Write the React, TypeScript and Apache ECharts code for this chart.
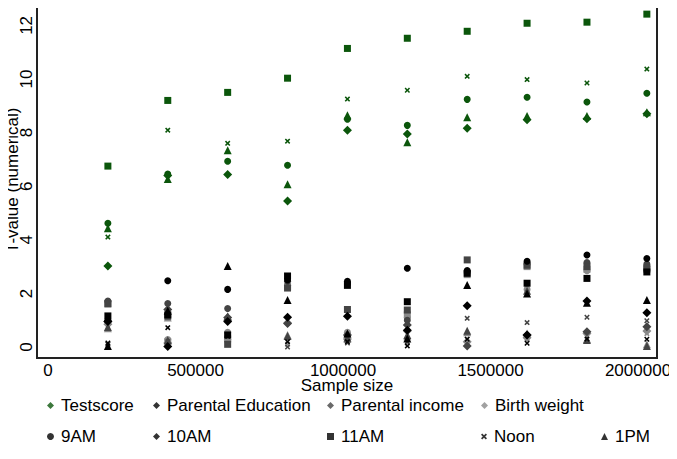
import React, { useEffect, useRef } from "react";
import * as echarts from "echarts";

// ---- data ----
const sampleSizes = [203000, 406000, 609000, 812000, 1015000, 1218000, 1421000, 1624000, 1827000, 2030000];
const outcomeNames = ["Testscore", "Parental Education", "Parental income", "Birth weight"];
const timeNames = ["9AM", "10AM", "11AM", "Noon", "1PM"];
const xTickStep = 500000;
const yTickStep = 2;

// Testscore
const testscore9AM = [4.62, 6.45, 6.93, 6.78, 8.5, 8.27, 9.24, 9.32, 9.14, 9.47];
const testscore10AM = [3.02, 6.4, 6.44, 5.45, 8.09, 7.95, 8.16, 8.48, 8.52, 8.7];
const testscore11AM = [6.75, 9.2, 9.5, 10.03, 11.14, 11.52, 11.78, 12.08, 12.12, 12.42];
const testscoreNoon = [4.1, 8.09, 7.6, 7.68, 9.25, 9.58, 10.1, 9.98, 9.85, 10.37];
const testscore1PM = [4.43, 6.27, 7.34, 6.07, 8.65, 7.64, 8.57, 8.62, 8.62, 8.76];

// Parental Education
const parEdu9AM = [1.0, 2.47, 2.15, 2.5, 2.45, 2.94, 2.85, 3.2, 3.43, 3.3];
const parEdu10AM = [0.95, 0.02, 0.95, 1.11, 1.15, 0.63, 1.54, 0.45, 1.72, 1.28];
const parEdu11AM = [1.16, 1.2, 0.45, 2.65, 2.3, 1.69, 2.75, 2.38, 2.56, 2.8];
const parEduNoon = [0.15, 0.72, 0.4, 0.2, 0.2, 0.04, 0.29, 0.14, 0.3, 0.29];
const parEdu1PM = [0.04, 1.35, 3.02, 1.75, 0.5, 0.32, 2.31, 2.0, 1.65, 1.75];

// Parental income
const parInc9AM = [1.72, 1.62, 1.44, 2.45, 2.35, 1.0, 2.8, 3.1, 3.15, 3.1];
const parInc10AM = [0.95, 1.4, 1.1, 0.88, 0.45, 0.82, 0.04, 0.45, 0.57, 0.76];
const parInc11AM = [1.62, 1.15, 0.1, 2.2, 1.4, 1.38, 3.25, 3.05, 3.0, 2.95];
const parIncNoon = [0.1, 0.2, 0.45, 0.0, 0.15, 0.2, 1.07, 0.91, 1.11, 0.98];
const parInc1PM = [0.75, 0.25, 1.15, 0.41, 0.35, 0.45, 0.61, 2.1, 0.26, 0.04];

// Birth weight
const birth9AM = [1.7, 0.28, 0.55, 2.3, 0.55, 1.1, 2.75, 2.15, 2.85, 3.0];
const birth10AM = [0.85, 0.15, 1.0, 0.9, 0.3, 0.6, 0.2, 0.35, 0.5, 0.6];
const birth11AM = [1.6, 0.2, 0.3, 2.25, 0.4, 1.2, 2.7, 3.0, 2.9, 2.9];
const birthNoon = [0.12, 0.22, 0.5, 0.1, 0.25, 0.15, 0.3, 0.3, 0.4, 0.5];
const birth1PM = [0.7, 1.1, 0.4, 0.45, 0.3, 0.4, 0.55, 0.5, 0.3, 0.1];

const outcomeValues = [
  [testscore9AM, testscore10AM, testscore11AM, testscoreNoon, testscore1PM],
  [parEdu9AM, parEdu10AM, parEdu11AM, parEduNoon, parEdu1PM],
  [parInc9AM, parInc10AM, parInc11AM, parIncNoon, parInc1PM],
  [birth9AM, birth10AM, birth11AM, birthNoon, birth1PM],
];

// ---- styles ----
const outcomeColors = ["#0b560b", "#000000", "#444444", "#8a8a8a"];
const X_PATH =
  "path://M0,2 L2,0 L5,3 L8,0 L10,2 L7,5 L10,8 L8,10 L5,7 L2,10 L0,8 L3,5 Z";
const timeSymbols = ["circle", "diamond", "rect", X_PATH, "triangle"];
const timeSizes = [7, 9, 7, 5.5, 8];

const FONT = "'Liberation Sans', Arial, Helvetica, sans-serif";
const FS = 17;
const FRAME_COLOR = "#222222";

// plot region (the framed box) in pixels; the axis ranges are padded so that
// the data area sits inside the box like the reference's plot region
const GRID = { left: 37, right: 20, top: 2.5, bottom: 101 };
const W = 677;
const H = 459;
const X_MIN = -37300;
const X_MAX = 2064400;
const Y_MIN = -0.41;
const Y_MAX = 12.854;

export default function App() {
  const ref = useRef<HTMLDivElement>(null);

  useEffect(() => {
    if (!ref.current) return;
    const chart = echarts.init(ref.current, null, { renderer: "svg" });

    const series: any[] = [];
    // frame bars along the grid's edges (backs up the grid border)
    series.push({
      type: "custom",
      name: "frame",
      coordinateSystem: "cartesian2d",
      silent: true,
      clip: false,
      z: 1,
      data: [[0, 0]],
      renderItem: (params: any) => {
        const cs = params.coordSys;
        const st = { fill: FRAME_COLOR };
        return {
          type: "group",
          children: [
            { type: "rect", shape: { x: cs.x - 1, y: cs.y - 1, width: cs.width + 2, height: 2 }, style: st },
            { type: "rect", shape: { x: cs.x - 1, y: cs.y + cs.height - 1, width: cs.width + 2, height: 2 }, style: st },
            { type: "rect", shape: { x: cs.x - 1, y: cs.y - 1, width: 2, height: cs.height + 2 }, style: st },
            { type: "rect", shape: { x: cs.x + cs.width - 1, y: cs.y - 1, width: 2, height: cs.height + 2 }, style: st },
          ],
        };
      },
    });

    [3, 2, 1, 0].forEach((o) => {
      timeNames.forEach((t, ti) => {
        series.push({
          type: "scatter",
          name: outcomeNames[o] + " " + t,
          symbol: timeSymbols[ti],
          symbolSize: timeSizes[ti],
          itemStyle: { color: outcomeColors[o], opacity: 1 },
          data: outcomeValues[o][ti].map((v, i) => [sampleSizes[i], v]),
          clip: false,
          silent: true,
          z: 3,
        });
      });
    });
    // legend-only series
    outcomeNames.forEach((n, o) => {
      series.push({
        type: "scatter",
        name: n,
        symbol: "diamond",
        itemStyle: { color: outcomeColors[o] },
        data: [],
      });
    });
    timeNames.forEach((n, ti) => {
      series.push({
        type: "scatter",
        name: n,
        symbol: timeSymbols[ti],
        itemStyle: { color: "#000000" },
        data: [],
      });
    });

    const colX = [47, 153, 327, 481, 601];
    const row1Y = 397;
    const row2Y = 428;
    const mkLegend = (n: string, x: number, y: number, size: number) => ({
      left: x,
      top: y,
      padding: 0,
      itemWidth: size,
      itemHeight: size,
      selectedMode: false,
      data: [n],
      textStyle: { fontSize: FS, color: "#000", fontFamily: FONT, padding: [0, 0, 0, 2] },
    });
    const legends: any[] = [];
    outcomeNames.forEach((n, i) => legends.push(mkLegend(n, colX[i], row1Y, 7)));
    timeNames.forEach((n, i) => legends.push(mkLegend(n, colX[i], row2Y, i === 3 ? 6 : 7)));

    const fl = GRID.left - 1;
    const fr = W - GRID.right - 1;
    const ft = GRID.top - 1;
    const fb = H - GRID.bottom - 1;
    const fw = fr - fl + 2;
    const fh = fb - ft + 2;
    const gst = { fill: FRAME_COLOR };

    const onStep = (v: number, step: number) =>
      Math.abs(v / step - Math.round(v / step)) < 1e-6;

    chart.setOption({
      animation: false,
      backgroundColor: "#ffffff",
      textStyle: { fontFamily: FONT },
      grid: {
        ...GRID,
        show: true,
        borderColor: FRAME_COLOR,
        borderWidth: 2,
        backgroundColor: "transparent",
        containLabel: false,
        outerBoundsMode: "none",
      },
      graphic: {
        elements: [
          { type: "rect", x: fl, y: ft, shape: { x: 0, y: 0, width: fw, height: 2 }, style: gst, silent: true },
          { type: "rect", x: fl, y: fb, shape: { x: 0, y: 0, width: fw, height: 2 }, style: gst, silent: true },
          { type: "rect", x: fl, y: ft, shape: { x: 0, y: 0, width: 2, height: fh }, style: gst, silent: true },
          { type: "rect", x: fr, y: ft, shape: { x: 0, y: 0, width: 2, height: fh }, style: gst, silent: true },
        ],
      },
      xAxis: {
        type: "value",
        min: X_MIN,
        max: X_MAX,
        minInterval: xTickStep,
        maxInterval: xTickStep,
        splitNumber: 4,
        name: "Sample size",
        nameLocation: "middle",
        nameGap: 19,
        nameMoveOverlap: false,
        nameTextStyle: { fontSize: FS, color: "#000", fontFamily: FONT },
        axisLine: { show: false },
        axisTick: { show: false },
        splitLine: { show: false },
        axisLabel: {
          fontSize: FS,
          color: "#000",
          fontFamily: FONT,
          margin: 4,
          formatter: (v: number) => (onStep(v, xTickStep) ? String(Math.round(v)) : ""),
        },
      },
      yAxis: {
        type: "value",
        min: Y_MIN,
        max: Y_MAX,
        minInterval: yTickStep,
        maxInterval: yTickStep,
        splitNumber: 6,
        name: "T-value (numerical)",
        nameLocation: "middle",
        nameRotate: 90,
        nameGap: 16,
        nameMoveOverlap: false,
        nameTextStyle: { fontSize: FS, color: "#000", fontFamily: FONT },
        axisLine: { show: false },
        axisTick: { show: false },
        splitLine: { show: false },
        axisLabel: {
          rotate: 90,
          fontSize: FS,
          color: "#000",
          fontFamily: FONT,
          margin: 2,
          formatter: (v: number) => (onStep(v, yTickStep) ? String(Math.round(v)) : ""),
        },
      },
      legend: legends,
      series,
    });

    return () => chart.dispose();
  }, []);

  return <div ref={ref} style={{ width: W, height: H, margin: -8 }} />;
}
